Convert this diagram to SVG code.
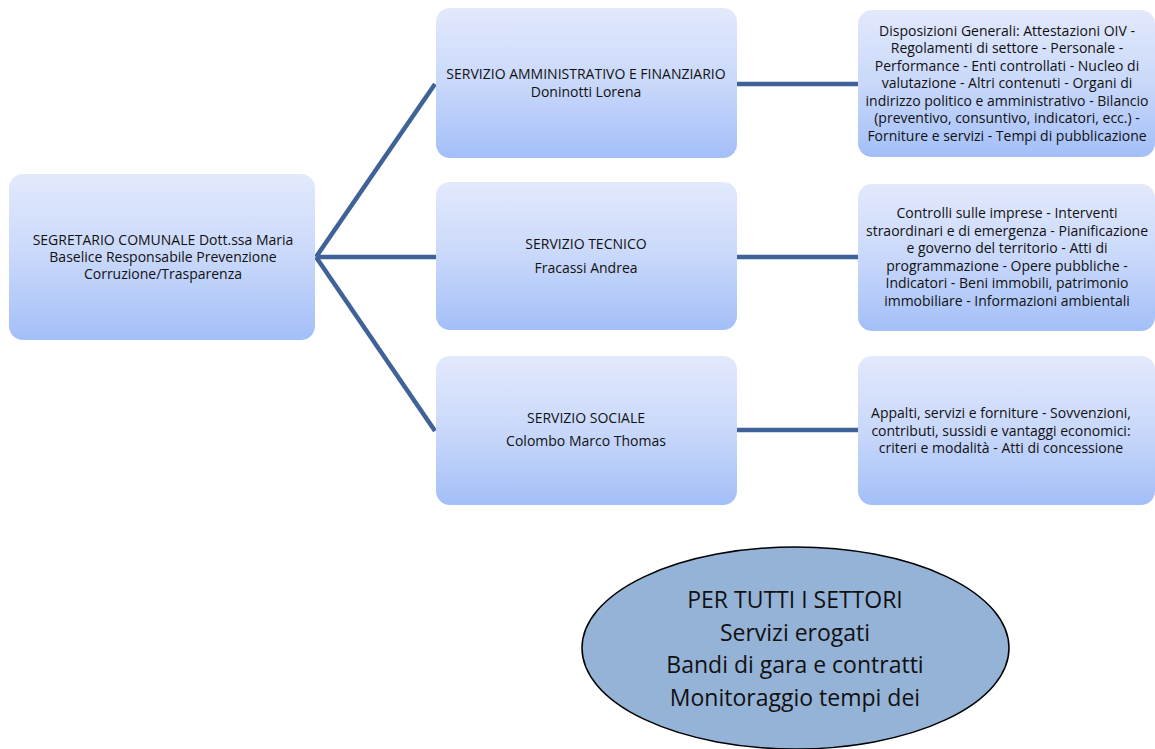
<svg xmlns="http://www.w3.org/2000/svg" width="1155" height="749" viewBox="0 0 1155 749">
<defs>
<linearGradient id="g" x1="0" y1="0" x2="0" y2="1">
<stop offset="0" stop-color="#E2E9FC"/>
<stop offset="0.5" stop-color="#C9D8FA"/>
<stop offset="1" stop-color="#A3BFF8"/>
</linearGradient>
<style>
.box{fill:url(#g);}
.t{font-family:"Open Sans","Liberation Sans",sans-serif;font-size:14px;fill:#111;text-anchor:middle;}
.big{font-family:"Open Sans","Liberation Sans",sans-serif;font-size:23px;fill:#111;text-anchor:middle;}
.c{stroke:#3F6399;stroke-width:4.5;fill:none;}
</style>
</defs>
<rect width="1155" height="749" fill="#fff"/>
<g id="connectors">
<line class="c" x1="316" y1="257" x2="435" y2="84"/>
<line class="c" x1="316" y1="257" x2="436" y2="257"/>
<line class="c" x1="316" y1="257" x2="435" y2="431"/>
<line class="c" x1="737" y1="84" x2="858" y2="84"/>
<line class="c" x1="737" y1="257" x2="858" y2="257"/>
<line class="c" x1="737" y1="430" x2="858" y2="430"/>
</g>
<g id="root">
<rect class="box" x="9" y="174" width="306" height="166" rx="14"/>
<text class="t" x="163" y="245">SEGRETARIO COMUNALE Dott.ssa Maria</text>
<text class="t" x="163" y="262">Baselice Responsabile Prevenzione</text>
<text class="t" x="163" y="279">Corruzione/Trasparenza</text>
</g>
<g id="amm">
<rect class="box" x="436" y="8" width="301" height="150" rx="14"/>
<text class="t" x="586" y="79">SERVIZIO AMMINISTRATIVO E FINANZIARIO</text>
<text class="t" x="586" y="97">Doninotti Lorena</text>
</g>
<g id="tec">
<rect class="box" x="436" y="182" width="301" height="148" rx="14"/>
<text class="t" x="586" y="249">SERVIZIO TECNICO</text>
<text class="t" x="586" y="273">Fracassi Andrea</text>
</g>
<g id="soc">
<rect class="box" x="436" y="356" width="301" height="149" rx="14"/>
<text class="t" x="586" y="423">SERVIZIO SOCIALE</text>
<text class="t" x="586" y="446">Colombo Marco Thomas</text>
</g>
<g id="amm-det">
<rect class="box" x="858" y="10" width="297" height="147" rx="14"/>
<text class="t" x="1007" y="36">Disposizioni Generali: Attestazioni OIV -</text>
<text class="t" x="1007" y="53">Regolamenti di settore - Personale -</text>
<text class="t" x="1007" y="71">Performance - Enti controllati - Nucleo di</text>
<text class="t" x="1007" y="88">valutazione - Altri contenuti - Organi di</text>
<text class="t" x="1007" y="106">indirizzo politico e amministrativo - Bilancio</text>
<text class="t" x="1007" y="123">(preventivo, consuntivo, indicatori, ecc.) -</text>
<text class="t" x="1007" y="141">Forniture e servizi - Tempi di pubblicazione</text>
</g>
<g id="tec-det">
<rect class="box" x="858" y="184" width="297" height="147" rx="14"/>
<text class="t" x="1007" y="218">Controlli sulle imprese - Interventi</text>
<text class="t" x="1007" y="236">straordinari e di emergenza - Pianificazione</text>
<text class="t" x="1007" y="253">e governo del territorio - Atti di</text>
<text class="t" x="1007" y="271">programmazione - Opere pubbliche -</text>
<text class="t" x="1007" y="288">Indicatori - Beni immobili, patrimonio</text>
<text class="t" x="1007" y="306">immobiliare - Informazioni ambientali</text>
</g>
<g id="soc-det">
<rect class="box" x="858" y="356" width="297" height="149" rx="14"/>
<text class="t" x="1001" y="418">Appalti, servizi e forniture - Sovvenzioni,</text>
<text class="t" x="1001" y="436">contributi, sussidi e vantaggi economici:</text>
<text class="t" x="1001" y="453">criteri e modalità - Atti di concessione</text>
</g>
<g id="tutti">
<ellipse cx="795.5" cy="648" rx="213.5" ry="101" fill="#95B3D7" stroke="#000" stroke-width="1.5"/>
<text class="big" x="795" y="608">PER TUTTI I SETTORI</text>
<text class="big" x="795" y="641">Servizi erogati</text>
<text class="big" x="795" y="673">Bandi di gara e contratti</text>
<text class="big" x="795" y="706">Monitoraggio tempi dei</text>
</g>
</svg>
